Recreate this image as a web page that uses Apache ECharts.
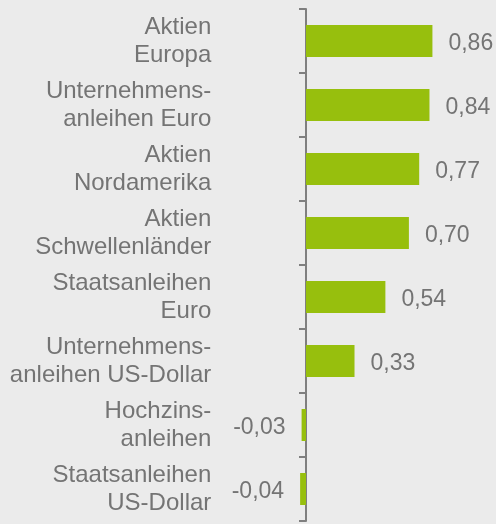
<!DOCTYPE html>
<html>
<head>
<meta charset="utf-8">
<script src="https://cdn.jsdelivr.net/npm/echarts@6/dist/echarts.min.js"></script>
<style>
  html, body { margin: 0; padding: 0; background: #ebebeb; }
  #main { width: 496px; height: 524px; }
</style>
</head>
<body>
<div id="main"></div>
<script>
// Kategorien (von oben nach unten)
var categories = [
  'Aktien\nEuropa',
  'Unternehmens-\nanleihen Euro',
  'Aktien\nNordamerika',
  'Aktien\nSchwellenländer',
  'Staatsanleihen\nEuro',
  'Unternehmens-\nanleihen US-Dollar',
  'Hochzins-\nanleihen',
  'Staatsanleihen\nUS-Dollar'
]
var values = [0.86, 0.84, 0.77, 0.70, 0.54, 0.33, -0.03, -0.04]

var textColor = '#747474'
var axisColor = '#7f7f7f'

var chart = echarts.init(document.getElementById('main'))
chart.setOption({
  backgroundColor: '#ebebeb',
  animation: false,
  grid: {
    left: 291.3,
    right: 13.6,
    top: 9,
    bottom: 3,
    containLabel: false,
    outerBoundsMode: 'none'
  },
  xAxis: {
    type: 'value',
    min: -0.1,
    max: 1.2,
    show: false
  },
  yAxis: {
    type: 'category',
    inverse: true,
    data: categories,
    axisLine: {
      show: true,
      onZero: true,
      lineStyle: { color: axisColor, width: 2 }
    },
    axisTick: {
      show: true,
      inside: false,
      length: 7,
      lineStyle: { color: axisColor, width: 2 }
    },
    axisLabel: {
      margin: 80,
      color: textColor,
      fontSize: 24,
      lineHeight: 28,
      fontFamily: 'Liberation Sans, Arial, sans-serif',
      align: 'right'
    }
  },
  series: [{
    type: 'bar',
    barWidth: '50%',
    itemStyle: { color: '#97bf0d' },
    label: {
      show: true,
      distance: 16,
      offset: [0, 3],
      color: textColor,
      fontSize: 23,
      fontFamily: 'Liberation Sans, Arial, sans-serif',
      formatter: function (p) { return p.value.toFixed(2).replace('.', ',') }
    },
    data: values.map(function (v) {
      return { value: v, label: { position: v < 0 ? 'left' : 'right' } }
    })
  }]
})
</script>
</body>
</html>
